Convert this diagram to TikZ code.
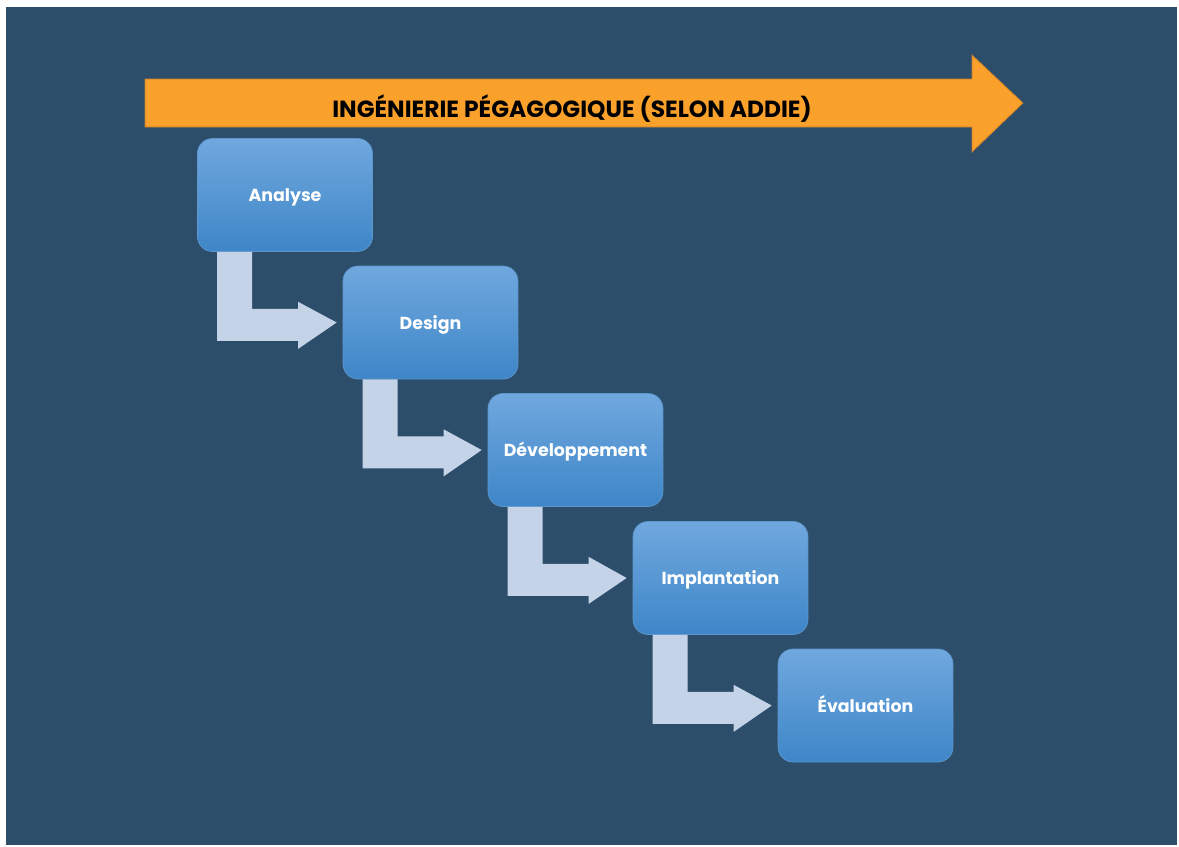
\documentclass[tikz,border=0pt]{standalone}
\usepackage{fontspec}
\setmainfont{Poppins}
\usepackage{xcolor}
\usepackage{tikz}
\usetikzlibrary{calc}

\definecolor{slatebg}{RGB}{45,78,107}
\definecolor{addieorange}{RGB}{249,161,43}
\definecolor{addieedge}{RGB}{196,124,44}
\definecolor{phasetop}{RGB}{112,168,222}
\definecolor{phasebottom}{RGB}{62,134,200}
\definecolor{phaseedge}{RGB}{92,150,205}
\definecolor{flowgrey}{RGB}{197,211,233}

\begin{document}
\begin{tikzpicture}[x=0.02cm, y=-0.02cm]
    % Define styles
    \tikzstyle{phase} = [rectangle, rounded corners=0.3cm, draw=phaseedge, line width=0.4pt, top color=phasetop, bottom color=phasebottom, minimum width=3.5cm, minimum height=2.26cm, text=white, text height=1.45ex, text depth=0pt, font=\bfseries\fontsize{9.9}{11}\selectfont]
    \tikzstyle{flow} = [fill=flowgrey, draw=none]
    \tikzstyle{axisarrow} = [fill=addieorange, draw=addieedge, line width=0.4pt]
    \tikzstyle{titletext} = [text=black, text height=1.45ex, text depth=0pt, font=\bfseries\fontsize{13.3}{15}\selectfont]

    % Background
    \useasboundingbox (0,0) rectangle (1179,846);
    \fill[slatebg] (6,7) rectangle (1177,845);

    % Orange process arrow
    \draw[axisarrow] (145,79) -- (972,79) -- (972,55) -- (1023,103) -- (972,152) -- (972,127) -- (145,127) -- cycle;
    \node[titletext] (title) at (572,111) {INGÉNIERIE PÉGAGOGIQUE (SELON ADDIE)};

    % Phases
    \node[phase] (analyse) at (285,195) {Analyse};
    \node[phase] (design) at (430.5,322.5) {Design};
    \node[phase] (dev) at (575.5,450) {Développement};
    \node[phase] (impl) at (720.5,578) {Implantation};
    \node[phase] (eval) at (865.5,705.5) {Évaluation};

    % Step arrows
    \foreach \a/\b in {analyse/design, design/dev, dev/impl, impl/eval} {
        \fill[flow] ($(\a.south west)+(20,0)$) -- ($(\a.south west)+(55,0)$)
            -- ($(\a.south west)+(55,57)$) -- ($(\a.south west)+(101,57)$)
            -- ($(\a.south west)+(101,50)$) -- ($(\b.west)+(-6,0)$)
            -- ($(\a.south west)+(101,97)$) -- ($(\a.south west)+(101,89)$)
            -- ($(\a.south west)+(20,89)$) -- cycle;
    }
\end{tikzpicture}
\end{document}
